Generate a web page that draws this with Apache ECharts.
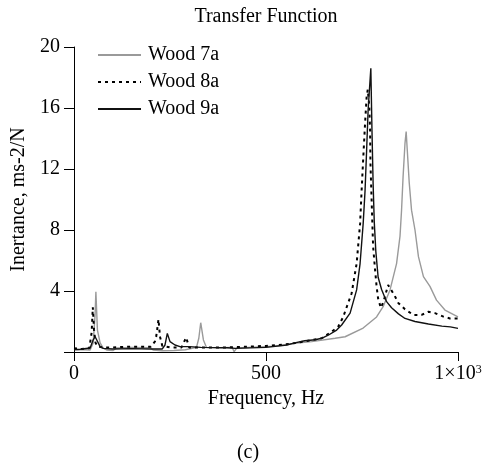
<!DOCTYPE html>
<html>
<head>
<meta charset="utf-8">
<script src="https://cdn.jsdelivr.net/npm/echarts@6/dist/echarts.min.js"></script>
<style>
  html, body { margin: 0; padding: 0; background: #fff; }
  #chart { width: 490px; height: 468px; }
</style>
</head>
<body>
<div id="chart"></div>
<script>
// values: frequency (Hz) and inertance (ms-2/N)
const wood7aFreq = [0, 10, 30, 42, 50, 55, 57, 61, 68, 76, 85, 102, 111, 150, 198, 206, 230, 260, 290, 319, 325, 330, 337, 345, 380, 412, 417, 424, 470, 520, 550, 575, 619, 680, 706, 753, 788, 805, 823, 840, 849, 853, 857, 862, 865, 868, 873, 879, 888, 897, 910, 927, 944, 966, 1000]
const wood7aVal = [0.2, 0.15, 0.15, 0.13, 0.6, 2.5, 3.95, 1.44, 0.6, 0.26, 0.13, 0.1, 0.26, 0.3, 0.28, 0.13, 0.08, 0.1, 0.15, 0.3, 0.9, 1.92, 0.79, 0.3, 0.28, 0.3, 0.02, 0.26, 0.32, 0.38, 0.46, 0.57, 0.68, 0.9, 1.0, 1.57, 2.3, 2.97, 4.07, 5.8, 7.6, 9.3, 11.5, 13.7, 14.45, 13.2, 11.1, 9.3, 8.0, 6.25, 4.94, 4.3, 3.4, 2.75, 2.31]

const wood8aFreq = [0, 20, 40, 46, 49, 52, 56, 62, 75, 100, 150, 200, 205, 211, 214, 217, 220, 224, 230, 250, 280, 292, 300, 350, 400, 450, 500, 550, 580, 610, 645, 671, 688, 701, 723, 736, 745, 749, 753, 758, 762, 765, 769, 771, 772, 775, 778, 779, 784, 788, 792, 799, 806, 818, 834, 845, 862, 884, 905, 923, 940, 962, 979, 1000]
const wood8aVal = [0.25, 0.2, 0.25, 1.3, 2.93, 1.5, 0.6, 0.35, 0.3, 0.3, 0.35, 0.35, 0.41, 0.7, 1.0, 1.55, 2.14, 1.0, 0.4, 0.3, 0.3, 0.95, 0.3, 0.3, 0.3, 0.35, 0.4, 0.5, 0.6, 0.74, 0.9, 1.33, 1.66, 2.3, 3.85, 5.8, 8.4, 10.6, 12.6, 15, 16.7, 17.2, 16.1, 14.6, 12.4, 10, 7.6, 6.9, 5.4, 4.3, 3.5, 2.9, 3.3, 4.4, 3.74, 3.2, 2.8, 2.43, 2.43, 2.64, 2.55, 2.32, 2.2, 2.2]

const wood9aFreq = [0, 16, 42, 50, 55, 59, 68, 76, 100, 150, 200, 230, 237, 243, 250, 263, 276, 300, 330, 400, 420, 500, 554, 575, 601, 628, 645, 662, 684, 697, 719, 736, 745, 753, 758, 762, 766, 773, 776, 779, 782, 786, 792, 801, 814, 827, 845, 862, 888, 923, 958, 980, 1000]
const wood9aVal = [0.15, 0.18, 0.26, 0.8, 1.0, 0.8, 0.35, 0.24, 0.2, 0.22, 0.2, 0.2, 0.46, 1.22, 0.68, 0.46, 0.35, 0.35, 0.3, 0.28, 0.24, 0.3, 0.46, 0.6, 0.74, 0.8, 0.9, 1.1, 1.44, 1.77, 2.55, 4.07, 5.8, 8.4, 10.6, 13.2, 15.9, 18.6, 14.5, 11.0, 8.5, 6.6, 4.9, 4.1, 3.3, 2.9, 2.5, 2.2, 2.0, 1.84, 1.7, 1.65, 1.55]

const seriesNames = ['Wood 7a', 'Wood 8a', 'Wood 9a']
const FONT = 'Liberation Serif, Times New Roman, serif'

const zip = (xs, ys) => xs.map((x, i) => [x, ys[i]])

const chart = echarts.init(document.getElementById('chart'))

const axisCommon = {
  axisLine: { lineStyle: { color: '#000', width: 1 } },
  splitLine: { show: false },
  nameTextStyle: { color: '#000', fontSize: 20, fontFamily: FONT }
}

chart.setOption({
  animation: false,
  backgroundColor: '#fff',
  textStyle: { fontFamily: FONT },
  grid: { left: 74, right: 32, top: 47, bottom: 116 },
  graphic: [
    {
      type: 'text', x: 266, y: 17,
      style: { text: 'Transfer Function', font: '20px ' + FONT, fill: '#000', textAlign: 'center', textVerticalAlign: 'middle' }
    },
    {
      type: 'text', x: 248, y: 453,
      style: { text: '(c)', font: '20px ' + FONT, fill: '#000', textAlign: 'center', textVerticalAlign: 'middle' }
    }
  ],
  legend: {
    orient: 'vertical',
    left: 92,
    top: 40,
    itemWidth: 43,
    itemHeight: 20,
    itemGap: 7,
    data: seriesNames,
    // line samples only, no marker
    itemStyle: { opacity: 0 },
    textStyle: { color: '#000', fontSize: 20, fontFamily: FONT, padding: [0, 0, 0, 2] }
  },
  xAxis: {
    ...axisCommon,
    type: 'value',
    min: 0,
    max: 1000,
    interval: 500,
    name: 'Frequency, Hz',
    nameLocation: 'middle',
    nameGap: 37,
    axisTick: { length: 9, lineStyle: { color: '#000' } },
    axisLabel: {
      color: '#000',
      fontSize: 20,
      fontFamily: FONT,
      margin: 12,
      formatter: v => (v === 1000 ? '1×10{sup|3}' : String(v)),
      rich: {
        sup: { fontSize: 12, fontFamily: FONT, color: '#000', verticalAlign: 'top', lineHeight: 20 }
      }
    }
  },
  yAxis: {
    ...axisCommon,
    type: 'value',
    min: 0,
    max: 20,
    interval: 4,
    name: 'Inertance, ms-2/N',
    nameLocation: 'middle',
    nameGap: 41,
    axisTick: { length: 10, lineStyle: { color: '#000' } },
    axisLabel: {
      color: '#000',
      fontSize: 20,
      fontFamily: FONT,
      margin: 14,
      formatter: v => (v === 0 ? '' : String(v))
    }
  },
  series: [
    {
      name: seriesNames[0],
      type: 'line',
      data: zip(wood7aFreq, wood7aVal),
      symbol: 'none',
      lineStyle: { color: '#9a9a9a', width: 1.4 },
      itemStyle: { color: '#9a9a9a' }
    },
    {
      name: seriesNames[1],
      type: 'line',
      data: zip(wood8aFreq, wood8aVal),
      symbol: 'none',
      lineStyle: { color: '#000', width: 2, type: [3, 4] },
      itemStyle: { color: '#000' }
    },
    {
      name: seriesNames[2],
      type: 'line',
      data: zip(wood9aFreq, wood9aVal),
      symbol: 'none',
      lineStyle: { color: '#111', width: 1.4 },
      itemStyle: { color: '#111' }
    }
  ]
})
</script>
</body>
</html>
